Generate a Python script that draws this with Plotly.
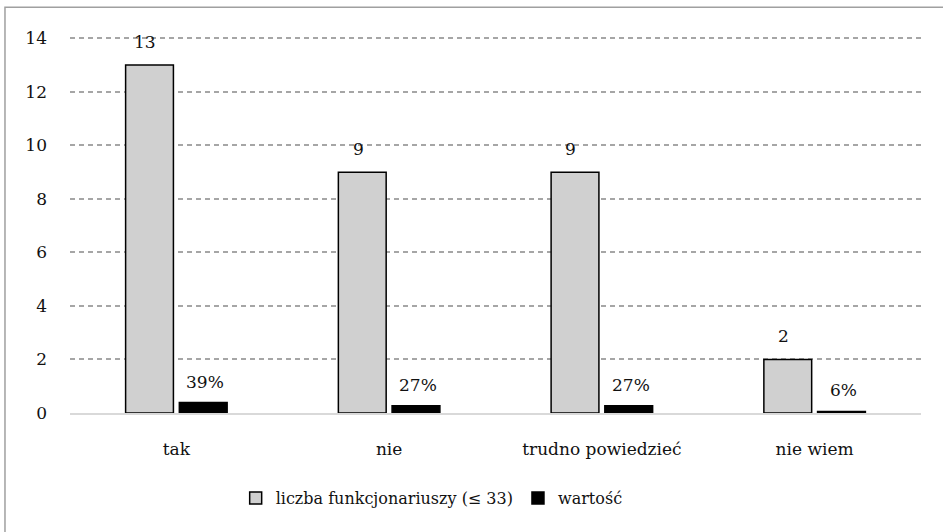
import plotly.graph_objects as go

kategorie = ['tak', 'nie', 'trudno powiedzieć', 'nie wiem']
liczba = [13, 9, 9, 2]
wartosc = [0.39, 0.27, 0.27, 0.06]
wartosc_etykiety = ['39%', '27%', '27%', '6%']

czcionka = dict(family='DejaVu Serif', size=17, color='#111111')

fig = go.Figure()
fig.add_trace(go.Bar(
    x=kategorie, y=liczba, name='liczba funkcjonariuszy (≤ 33)',
    marker=dict(color='#d0d0d0', line=dict(color='black', width=1.5)),
))
fig.add_trace(go.Bar(
    x=kategorie, y=wartosc, name='wartość',
    marker=dict(color='black', line=dict(color='black', width=1.5)),
))

# etykiety nad słupkami
for i, k in enumerate(kategorie):
    fig.add_annotation(x=k, y=liczba[i], text=str(liczba[i]), showarrow=False,
                       xshift=-31, yshift=23, font=czcionka)
    fig.add_annotation(x=k, y=wartosc[i], text=wartosc_etykiety[i], showarrow=False,
                       xshift=29, yshift=21, font=czcionka)

# ramka wykresu
fig.add_shape(type='rect', xref='paper', yref='paper',
              x0=-0.0764, x1=1.2, y0=-0.6, y1=1.068,
              line=dict(color='#a0a0a0', width=1.5), layer='below')

fig.update_layout(
    width=943, height=532,
    margin=dict(l=70, r=22, t=33, b=119),
    plot_bgcolor='white', paper_bgcolor='white',
    font=czcionka,
    barmode='group', bargap=0.495, bargroupgap=0.11,
    showlegend=True,
    legend=dict(orientation='h', x=0.425, xanchor='center', y=-0.224, yanchor='middle',
                font=dict(family='DejaVu Serif', size=16, color='#111111'),
                itemwidth=30, bgcolor='rgba(0,0,0,0)'),
)
fig.update_yaxes(range=[0, 14.2], tickvals=[0, 2, 4, 6, 8, 10, 12, 14],
                 showgrid=True, gridcolor='#a6a6a6',
                 gridwidth=1.5, griddash='5px,4px', zeroline=False,
                 showline=False, ticks='', ticklabelstandoff=22)
fig.update_xaxes(showline=True, linecolor='#d9d9d9', linewidth=1.5,
                 ticks='', ticklabelstandoff=20)

fig.write_html('out.html', config={'displayModeBar': False},
               post_script="document.body.style.margin='0';")
